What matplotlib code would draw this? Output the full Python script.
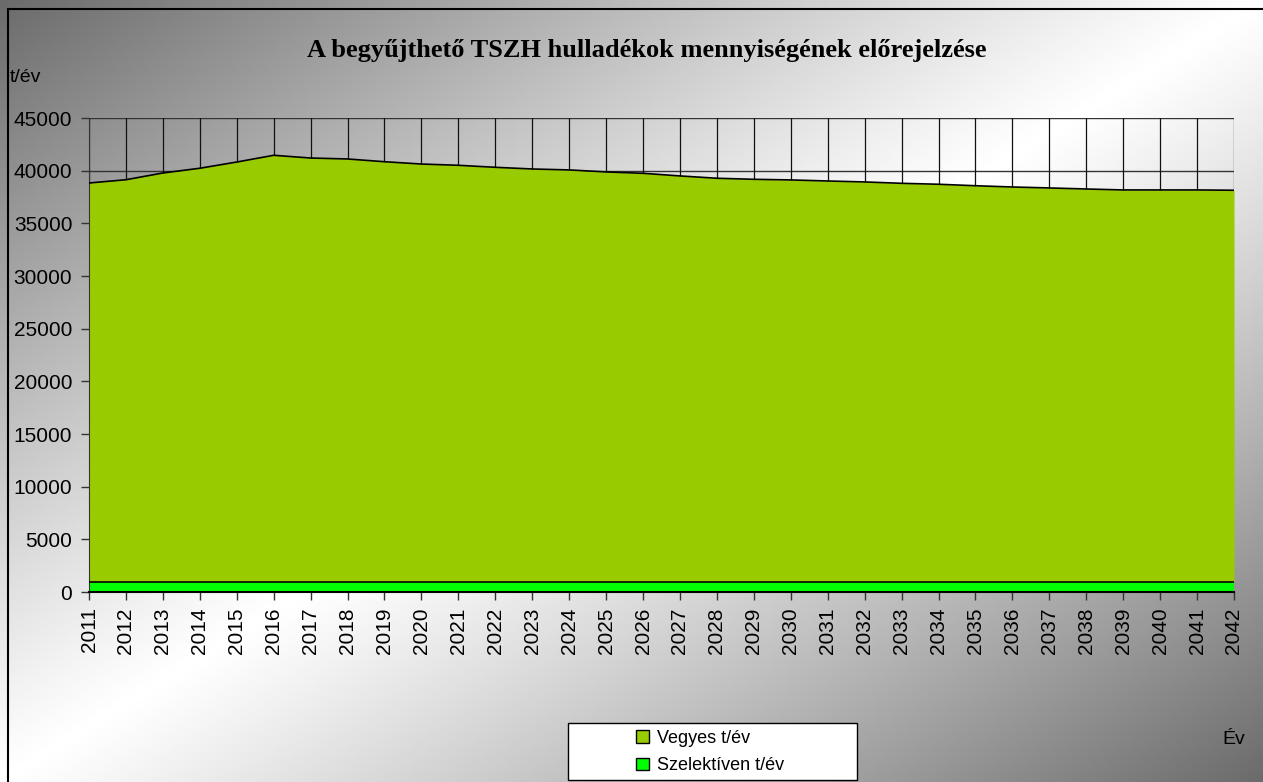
import numpy as np
import matplotlib.pyplot as plt
from matplotlib.patches import Patch, Rectangle

years = list(range(2011, 2043))

szelektiv = [950] * 32

vegyes = [37880, 38190, 38830, 39280, 39870, 40510, 40250, 40160,
          39900, 39680, 39560, 39370, 39210, 39120, 38930, 38800,
          38550, 38330, 38230, 38170, 38070, 37980, 37850, 37760,
          37620, 37500, 37410, 37310, 37220, 37220, 37220, 37190]

yticks = list(range(0, 45001, 5000))

plt.rcParams['font.family'] = ['Liberation Sans', 'DejaVu Sans']

fig = plt.figure(figsize=(12.63, 7.82), dpi=100)

# diagonal gradient background: dark at top-left / bottom-right, white across the other diagonal
bg = fig.add_axes([0, 0, 1, 1], zorder=-10)
gx, gy = np.meshgrid(np.linspace(0, 1, 400), np.linspace(0, 1, 300))
d = np.abs(gx + gy - 1)
shade = 1 - 0.58 * d ** 1.1
bg.imshow(shade, cmap='gray', vmin=0, vmax=1, aspect='auto', extent=[0, 1, 1, 0])
bg.set_xlim(0, 1)
bg.set_ylim(1, 0)
bg.axis('off')

# outer frame
fig.add_artist(Rectangle((8 / 1263, -0.01), 1.1, 1 - 9 / 782 + 0.01,
                         transform=fig.transFigure, fill=False,
                         edgecolor='black', linewidth=1.5))

ax = fig.add_axes([89 / 1263, 1 - 592 / 782, (1234 - 89) / 1263, (592 - 118) / 782])
ax.set_facecolor('none')

total = [v + s for v, s in zip(vegyes, szelektiv)]
ax.fill_between(years, 0, szelektiv, color='#00FF00', linewidth=0, zorder=2)
ax.fill_between(years, szelektiv, total, color='#99CC00', linewidth=0, zorder=2)
ax.plot(years, szelektiv, color='black', linewidth=1.2, zorder=3)
ax.plot(years, total, color='black', linewidth=1.2, zorder=3)

for y in yticks[1:]:
    ax.axhline(y, color='#333333', linewidth=1, zorder=1)
for x in years:
    ax.axvline(x, color='#111111', linewidth=0.9, zorder=1)

ax.set_xlim(years[0], years[-1])
ax.set_ylim(0, 45000)
ax.set_yticks(yticks)
ax.set_xticks(years)
ax.set_xticklabels([str(y) for y in years], rotation=90)
ax.tick_params(axis='both', labelsize=15, length=6, width=1, color='#333333')
ax.tick_params(axis='y', pad=6)
ax.tick_params(axis='x', pad=5)

for side in ['top', 'right']:
    ax.spines[side].set_visible(False)
ax.spines['left'].set_color('#333333')
ax.spines['bottom'].set_color('black')
ax.spines['bottom'].set_linewidth(1.5)
ax.spines['bottom'].set_zorder(4)

fig.text(647 / 1263, 1 - 50 / 782, 'A begyűjthető TSZH hulladékok mennyiségének előrejelzése',
         family=['Liberation Serif', 'DejaVu Serif'], fontweight='bold', fontsize=19,
         ha='center', va='center')
fig.text(10 / 1263, 1 - 77 / 782, 't/év', fontsize=14, ha='left', va='center')
fig.text(1234 / 1263, 1 - 740 / 782, 'Év', fontsize=14, ha='center', va='center')

# legend box
fig.add_artist(Rectangle((568 / 1263, 1 - 780 / 782), (857 - 568) / 1263, (780 - 723) / 782,
                         transform=fig.transFigure, facecolor='white',
                         edgecolor='black', linewidth=1, zorder=5))
handles = [Patch(facecolor='#99CC00', edgecolor='black', label='Vegyes t/év'),
           Patch(facecolor='#00FF00', edgecolor='black', label='Szelektíven t/év')]
leg = fig.legend(handles=handles, loc='center', bbox_to_anchor=(710 / 1263, 1 - 752 / 782),
                 frameon=False, fontsize=13, handlelength=0.7, handleheight=0.7,
                 handletextpad=0.45, labelspacing=0.6, borderpad=0)
leg.set_zorder(6)

fig.savefig('out.png', dpi=100)
